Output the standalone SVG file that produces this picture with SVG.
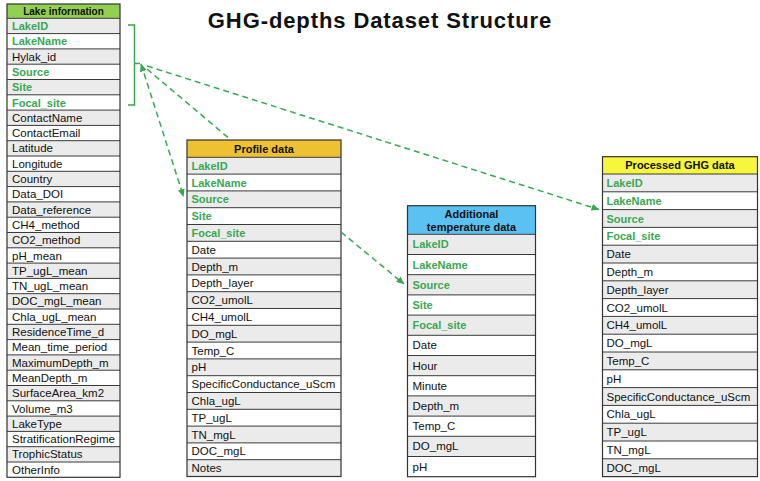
<svg xmlns="http://www.w3.org/2000/svg" width="760" height="481" viewBox="0 0 760 481">
<style>
.bg{fill:#fff}
.g{fill:#ebebeb}
.ln{stroke:#3a3a3a;stroke-width:1}
.box{fill:none;stroke:#333;stroke-width:1.2}
.t{font-family:"Liberation Sans",Arial,sans-serif;font-size:11.5px;fill:#111}
.k{font-family:"Liberation Sans",Arial,sans-serif;font-size:11px;font-weight:bold;fill:#38a852}
.h{font-family:"Liberation Sans",Arial,sans-serif;font-size:11px;font-weight:bold;fill:#111;text-anchor:middle}
.title{font-family:"Liberation Sans",Arial,sans-serif;font-size:22px;font-weight:bold;fill:#111;text-anchor:middle;letter-spacing:0.9px}
.c{fill:none;stroke:#38a852;stroke-width:1.5;stroke-dasharray:6 4}
.br{fill:none;stroke:#38a852;stroke-width:1.5}
</style>
<defs>
<marker id="ah" viewBox="0 0 8 7" refX="7.5" refY="3.5" markerWidth="8" markerHeight="7" markerUnits="userSpaceOnUse" orient="auto-start-reverse">
<path d="M0,0 L8,3.5 L0,7 z" fill="#38a852"/>
</marker>
</defs>
<rect width="760" height="481" fill="#fff"/>
<text class="title" x="380" y="28">GHG-depths Dataset Structure</text>

<g id="lake-information">
<rect class="bg" x="7" y="4" width="113" height="473.3"/>
<rect x="7" y="4" width="113" height="14.3" fill="#92d050"/>
<text class="h" x="63.5" y="15" style="font-size:10px">Lake information</text>
<rect class="g" x="7" y="18.3" width="113" height="15.3"/>
<rect class="g" x="7" y="48.9" width="113" height="15.3"/>
<rect class="g" x="7" y="79.5" width="113" height="15.3"/>
<rect class="g" x="7" y="110.1" width="113" height="15.3"/>
<rect class="g" x="7" y="140.7" width="113" height="15.3"/>
<rect class="g" x="7" y="171.3" width="113" height="15.3"/>
<rect class="g" x="7" y="201.9" width="113" height="15.3"/>
<rect class="g" x="7" y="232.5" width="113" height="15.3"/>
<rect class="g" x="7" y="263.1" width="113" height="15.3"/>
<rect class="g" x="7" y="293.7" width="113" height="15.3"/>
<rect class="g" x="7" y="324.3" width="113" height="15.3"/>
<rect class="g" x="7" y="354.9" width="113" height="15.3"/>
<rect class="g" x="7" y="385.5" width="113" height="15.3"/>
<rect class="g" x="7" y="416.1" width="113" height="15.3"/>
<rect class="g" x="7" y="446.7" width="113" height="15.3"/>
<path class="ln" d="M7,18.3H120M7,33.6H120M7,48.9H120M7,64.2H120M7,79.5H120M7,94.8H120M7,110.1H120M7,125.4H120M7,140.7H120M7,156H120M7,171.3H120M7,186.6H120M7,201.9H120M7,217.2H120M7,232.5H120M7,247.8H120M7,263.1H120M7,278.4H120M7,293.7H120M7,309H120M7,324.3H120M7,339.6H120M7,354.9H120M7,370.2H120M7,385.5H120M7,400.8H120M7,416.1H120M7,431.4H120M7,446.7H120M7,462H120"/>
<rect class="box" x="7" y="4" width="113" height="473.3"/>
<text class="k" x="12" y="30">LakeID</text>
<text class="k" x="12" y="45.3">LakeName</text>
<text class="t" x="12" y="60.6">Hylak_id</text>
<text class="k" x="12" y="75.9">Source</text>
<text class="k" x="12" y="91.2">Site</text>
<text class="k" x="12" y="106.5">Focal_site</text>
<text class="t" x="12" y="121.8">ContactName</text>
<text class="t" x="12" y="137.1">ContactEmail</text>
<text class="t" x="12" y="152.4">Latitude</text>
<text class="t" x="12" y="167.7">Longitude</text>
<text class="t" x="12" y="183">Country</text>
<text class="t" x="12" y="198.3">Data_DOI</text>
<text class="t" x="12" y="213.6">Data_reference</text>
<text class="t" x="12" y="228.9">CH4_method</text>
<text class="t" x="12" y="244.2">CO2_method</text>
<text class="t" x="12" y="259.5">pH_mean</text>
<text class="t" x="12" y="274.8">TP_ugL_mean</text>
<text class="t" x="12" y="290.1">TN_ugL_mean</text>
<text class="t" x="12" y="305.4">DOC_mgL_mean</text>
<text class="t" x="12" y="320.7">Chla_ugL_mean</text>
<text class="t" x="12" y="336">ResidenceTime_d</text>
<text class="t" x="12" y="351.3">Mean_time_period</text>
<text class="t" x="12" y="366.6">MaximumDepth_m</text>
<text class="t" x="12" y="381.9">MeanDepth_m</text>
<text class="t" x="12" y="397.2">SurfaceArea_km2</text>
<text class="t" x="12" y="412.5">Volume_m3</text>
<text class="t" x="12" y="427.8">LakeType</text>
<text class="t" x="12" y="443.1">StratificationRegime</text>
<text class="t" x="12" y="458.4">TrophicStatus</text>
<text class="t" x="12" y="473.7">OtherInfo</text>
</g>

<g id="profile-data">
<rect class="bg" x="187" y="140" width="154" height="336.5"/>
<rect x="187" y="140" width="154" height="17.3" fill="#edc132"/>
<text class="h" x="264" y="152.5">Profile data</text>
<rect class="g" x="187" y="157.3" width="154" height="16.8"/>
<rect class="g" x="187" y="190.9" width="154" height="16.8"/>
<rect class="g" x="187" y="224.5" width="154" height="16.8"/>
<rect class="g" x="187" y="258.1" width="154" height="16.8"/>
<rect class="g" x="187" y="291.7" width="154" height="16.8"/>
<rect class="g" x="187" y="325.3" width="154" height="16.8"/>
<rect class="g" x="187" y="358.9" width="154" height="16.8"/>
<rect class="g" x="187" y="392.5" width="154" height="16.8"/>
<rect class="g" x="187" y="426.1" width="154" height="16.8"/>
<rect class="g" x="187" y="459.7" width="154" height="16.8"/>
<path class="ln" d="M187,157.3H341M187,174.1H341M187,190.9H341M187,207.7H341M187,224.5H341M187,241.3H341M187,258.1H341M187,274.9H341M187,291.7H341M187,308.5H341M187,325.3H341M187,342.1H341M187,358.9H341M187,375.7H341M187,392.5H341M187,409.3H341M187,426.1H341M187,442.9H341M187,459.7H341"/>
<rect class="box" x="187" y="140" width="154" height="336.5"/>
<text class="k" x="191.5" y="169.8">LakeID</text>
<text class="k" x="191.5" y="186.6">LakeName</text>
<text class="k" x="191.5" y="203.4">Source</text>
<text class="k" x="191.5" y="220.2">Site</text>
<text class="k" x="191.5" y="237">Focal_site</text>
<text class="t" x="191.5" y="253.8">Date</text>
<text class="t" x="191.5" y="270.6">Depth_m</text>
<text class="t" x="191.5" y="287.4">Depth_layer</text>
<text class="t" x="191.5" y="304.2">CO2_umolL</text>
<text class="t" x="191.5" y="321">CH4_umolL</text>
<text class="t" x="191.5" y="337.8">DO_mgL</text>
<text class="t" x="191.5" y="354.6">Temp_C</text>
<text class="t" x="191.5" y="371.4">pH</text>
<text class="t" x="191.5" y="388.2">SpecificConductance_uScm</text>
<text class="t" x="191.5" y="405">Chla_ugL</text>
<text class="t" x="191.5" y="421.8">TP_ugL</text>
<text class="t" x="191.5" y="438.6">TN_mgL</text>
<text class="t" x="191.5" y="455.4">DOC_mgL</text>
<text class="t" x="191.5" y="472.2">Notes</text>
</g>

<g id="additional-temperature-data">
<rect class="bg" x="407.5" y="205.7" width="128" height="271"/>
<rect x="407.5" y="205.7" width="128" height="28.6" fill="#5bc0f2"/>
<text class="h" x="471.5" y="217.5">Additional</text>
<text class="h" x="471.5" y="230.5">temperature data</text>
<rect class="g" x="407.5" y="234.3" width="128" height="20.2"/>
<rect class="g" x="407.5" y="274.7" width="128" height="20.2"/>
<rect class="g" x="407.5" y="315.1" width="128" height="20.2"/>
<rect class="g" x="407.5" y="355.5" width="128" height="20.2"/>
<rect class="g" x="407.5" y="395.9" width="128" height="20.2"/>
<rect class="g" x="407.5" y="436.3" width="128" height="20.2"/>
<path class="ln" d="M407.5,234.3H535.5M407.5,254.5H535.5M407.5,274.7H535.5M407.5,294.9H535.5M407.5,315.1H535.5M407.5,335.3H535.5M407.5,355.5H535.5M407.5,375.7H535.5M407.5,395.9H535.5M407.5,416.1H535.5M407.5,436.3H535.5M407.5,456.5H535.5"/>
<rect class="box" x="407.5" y="205.7" width="128" height="271"/>
<text class="k" x="412.5" y="248.3">LakeID</text>
<text class="k" x="412.5" y="268.5">LakeName</text>
<text class="k" x="412.5" y="288.7">Source</text>
<text class="k" x="412.5" y="308.9">Site</text>
<text class="k" x="412.5" y="329.1">Focal_site</text>
<text class="t" x="412.5" y="349.3">Date</text>
<text class="t" x="412.5" y="369.5">Hour</text>
<text class="t" x="412.5" y="389.7">Minute</text>
<text class="t" x="412.5" y="409.9">Depth_m</text>
<text class="t" x="412.5" y="430.1">Temp_C</text>
<text class="t" x="412.5" y="450.3">DO_mgL</text>
<text class="t" x="412.5" y="470.5">pH</text>
</g>

<g id="processed-ghg-data">
<rect class="bg" x="602.5" y="156.7" width="155" height="319.9"/>
<rect x="602.5" y="156.7" width="155" height="17.3" fill="#f6f63c"/>
<text class="h" x="680" y="169">Processed GHG data</text>
<rect class="g" x="602.5" y="174" width="155" height="17.8"/>
<rect class="g" x="602.5" y="209.6" width="155" height="17.8"/>
<rect class="g" x="602.5" y="245.2" width="155" height="17.8"/>
<rect class="g" x="602.5" y="280.8" width="155" height="17.8"/>
<rect class="g" x="602.5" y="316.4" width="155" height="17.8"/>
<rect class="g" x="602.5" y="352" width="155" height="17.8"/>
<rect class="g" x="602.5" y="387.6" width="155" height="17.8"/>
<rect class="g" x="602.5" y="423.2" width="155" height="17.8"/>
<rect class="g" x="602.5" y="458.8" width="155" height="17.8"/>
<path class="ln" d="M602.5,174H757.5M602.5,191.8H757.5M602.5,209.6H757.5M602.5,227.4H757.5M602.5,245.2H757.5M602.5,263H757.5M602.5,280.8H757.5M602.5,298.6H757.5M602.5,316.4H757.5M602.5,334.2H757.5M602.5,352H757.5M602.5,369.8H757.5M602.5,387.6H757.5M602.5,405.4H757.5M602.5,423.2H757.5M602.5,441H757.5M602.5,458.8H757.5"/>
<rect class="box" x="602.5" y="156.7" width="155" height="319.9"/>
<text class="k" x="606.5" y="187">LakeID</text>
<text class="k" x="606.5" y="204.8">LakeName</text>
<text class="k" x="606.5" y="222.6">Source</text>
<text class="k" x="606.5" y="240.4">Focal_site</text>
<text class="t" x="606.5" y="258.2">Date</text>
<text class="t" x="606.5" y="276">Depth_m</text>
<text class="t" x="606.5" y="293.8">Depth_layer</text>
<text class="t" x="606.5" y="311.6">CO2_umolL</text>
<text class="t" x="606.5" y="329.4">CH4_umolL</text>
<text class="t" x="606.5" y="347.2">DO_mgL</text>
<text class="t" x="606.5" y="365">Temp_C</text>
<text class="t" x="606.5" y="382.8">pH</text>
<text class="t" x="606.5" y="400.6">SpecificConductance_uScm</text>
<text class="t" x="606.5" y="418.4">Chla_ugL</text>
<text class="t" x="606.5" y="436.2">TP_ugL</text>
<text class="t" x="606.5" y="454">TN_mgL</text>
<text class="t" x="606.5" y="471.8">DOC_mgL</text>
</g>

<g id="connectors">
<path class="br" d="M128,25H134.5V105H128M134.5,63.5H140"/>
<path class="c" d="M141,64L183.5,196.5" marker-start="url(#ah)" marker-end="url(#ah)"/>
<path class="c" d="M147,69L231,140"/>
<path class="c" d="M147,66L599,209.5" marker-end="url(#ah)"/>
<path class="c" d="M341,232L404,284" marker-end="url(#ah)"/>
</g>
</svg>
